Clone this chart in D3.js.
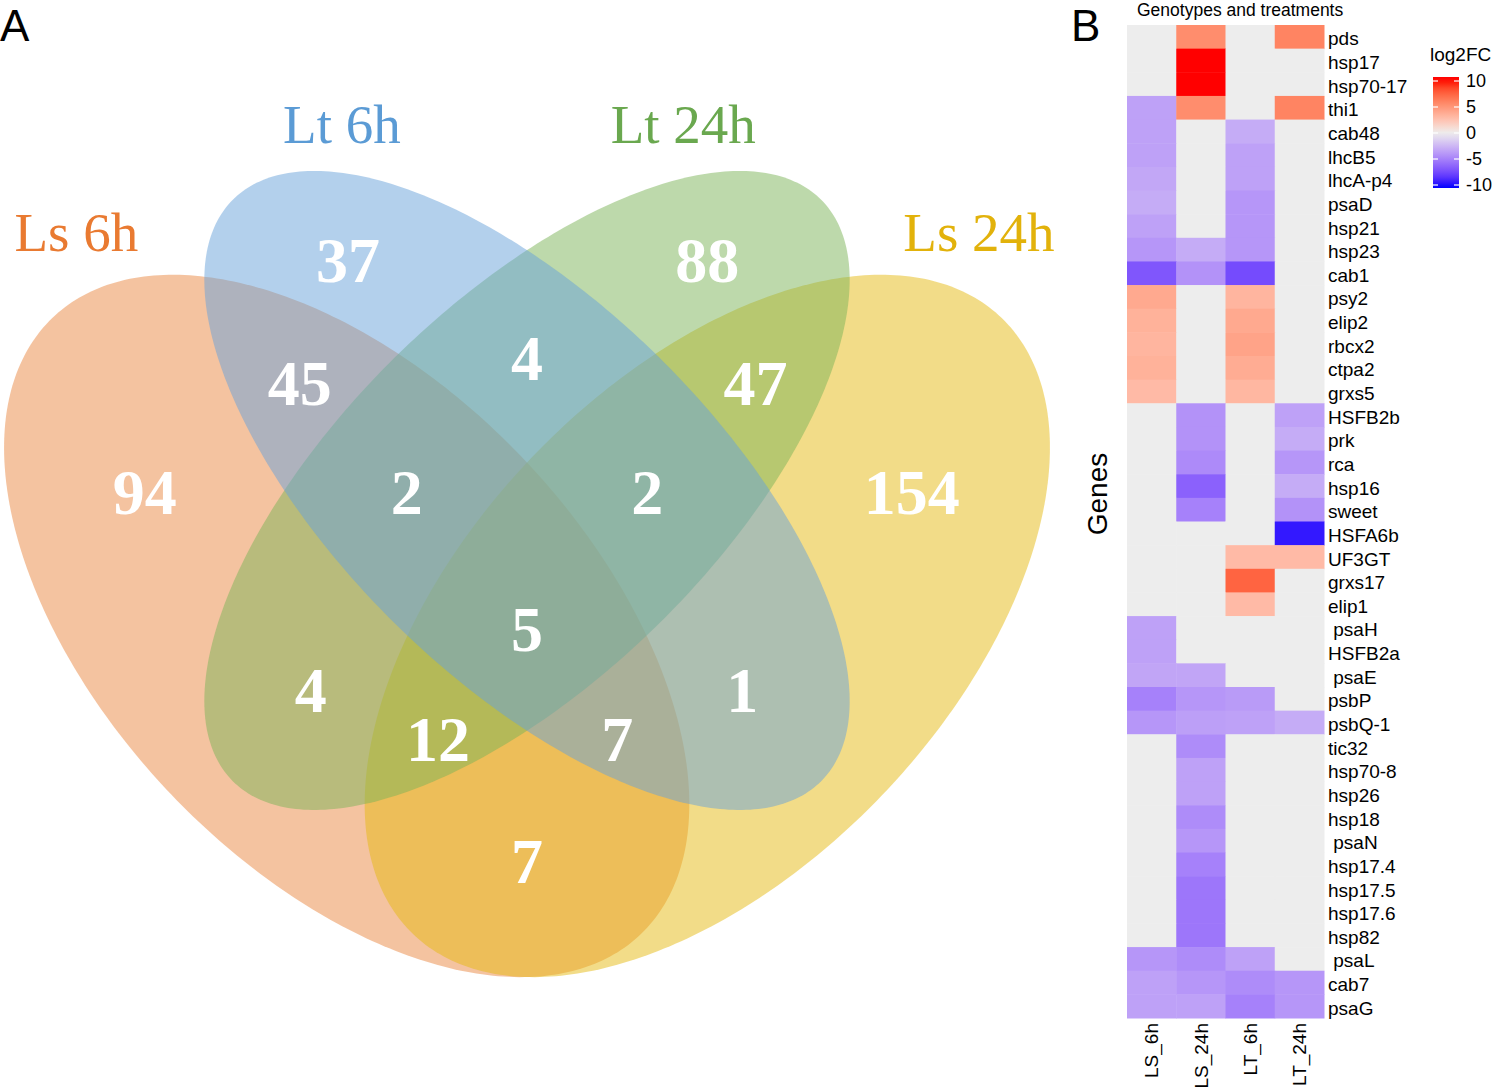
<!DOCTYPE html>
<html>
<head>
<meta charset="utf-8">
<script src="https://cdn.jsdelivr.net/npm/d3@7"></script>
<style>
  html, body { margin: 0; padding: 0; background: #fff; }
  svg { display: block; }
</style>
</head>
<body>
<svg id="chart" width="1495" height="1089"></svg>
<script>
// ---------------- DATA ----------------
// Venn sets
const setNames = ["Ls 6h", "Lt 6h", "Lt 24h", "Ls 24h"];
// Venn region counts
const regionCounts = [94, 37, 88, 154, 45, 4, 47, 2, 2, 5, 4, 1, 12, 7, 7];

// Heatmap
const genes = ["pds","hsp17","hsp70-17","thi1","cab48","lhcB5","lhcA-p4","psaD","hsp21","hsp23","cab1",
  "psy2","elip2","rbcx2","ctpa2","grxs5","HSFB2b","prk","rca","hsp16","sweet","HSFA6b","UF3GT","grxs17",
  "elip1"," psaH","HSFB2a"," psaE","psbP","psbQ-1","tic32","hsp70-8","hsp26","hsp18"," psaN","hsp17.4",
  "hsp17.5","hsp17.6","hsp82"," psaL","cab7","psaG"];
const conditions = ["LS_6h", "LS_24h", "LT_6h", "LT_24h"];
const ls6h  = [null,null,null,-3.5,-3.5,-3.5,-3.2,-3,-3.5,-4,-7,4,3.5,3.3,3.5,3,null,null,null,null,null,null,null,null,null,-3.5,-3.5,-3.3,-5,-4,null,null,null,null,null,null,null,null,null,-4,-3.5,-3.5];
const ls24h = [5.5,10,10,5.5,null,null,null,null,null,-3,-4.2,null,null,null,null,null,-4.2,-4.2,-4.6,-6.5,-5,null,null,null,null,null,null,-3.3,-4,-3.6,-4.5,-3.5,-3.5,-4.5,-4,-5,-5.5,-5.5,-5.5,-4.5,-4,-3.5];
const lt6h  = [null,null,null,null,-3,-3.5,-3.5,-4,-4,-4,-7.5,3.3,4,4.3,3.8,3.2,null,null,null,null,null,null,3,7.5,3,null,null,null,-3.8,-3.5,null,null,null,null,null,null,null,null,null,-3.5,-4.5,-5];
const lt24h = [6,null,null,6,null,null,null,null,null,null,null,null,null,null,null,null,-3.5,-3,-4,-3,-4.2,-9.5,3,null,null,null,null,null,null,-3,null,null,null,null,null,null,null,null,null,null,-4,-4];
const legendTicks = [10, 5, 0, -5, -10];

// ---------------- LAYOUT / STYLE ----------------
const svg = d3.select("#chart");
const serif = "'Liberation Serif', 'Times New Roman', serif";
const sans = "'Liberation Sans', Arial, sans-serif";

// Panel letters
svg.append("text").attr("x", 0).attr("y", 41).attr("font-family", sans).attr("font-size", 44).text("A");
svg.append("text").attr("x", 1071).attr("y", 41).attr("font-family", sans).attr("font-size", 44).text("B");

// ---------- Venn (unit coordinates, y up) ----------
const vx = d3.scaleLinear().domain([0, 1]).range([-74, 1128]);
const vy = d3.scaleLinear().domain([0, 1]).range([1205, -27]);

const ellipses = [
  {cx: 0.35, cy: 0.47, a: 0.35, b: 0.2,   rot: -45,   fill: "#E98741"},
  {cx: 0.65, cy: 0.47, a: 0.35, b: 0.2,   rot: 45,    fill: "#E5B911"},
  {cx: 0.5,  cy: 0.58, a: 0.34, b: 0.154, rot: 43.5,  fill: "#7BB357"},
  {cx: 0.5,  cy: 0.58, a: 0.34, b: 0.154, rot: -43.5, fill: "#67A1D9"}
];
const line = d3.line().x(p => vx(p[0])).y(p => vy(p[1])).curve(d3.curveLinearClosed);
function ellipsePts(e) {
  const th = e.rot * Math.PI / 180, pts = [];
  for (let i = 0; i < 360; i++) {
    const f = i * Math.PI / 180;
    const ux = e.a * Math.cos(f), uy = e.b * Math.sin(f);
    pts.push([e.cx + ux * Math.cos(th) - uy * Math.sin(th), e.cy + ux * Math.sin(th) + uy * Math.cos(th)]);
  }
  return pts;
}
svg.append("g").selectAll("path").data(ellipses).join("path")
  .attr("d", e => line(ellipsePts(e)))
  .attr("fill", e => e.fill).attr("fill-opacity", 0.5).attr("stroke", "none");

// set labels
const setLabelPos = [[0.125, 0.774], [0.346, 0.862], [0.630, 0.862], [0.876, 0.774]];
const setColors = ["#E97A31", "#5B9BD5", "#6AA84F", "#E2B20B"];
svg.append("g").selectAll("text").data(setNames).join("text")
  .attr("x", (d, i) => vx(setLabelPos[i][0])).attr("y", (d, i) => vy(setLabelPos[i][1]))
  .attr("text-anchor", "middle").attr("font-family", serif).attr("font-size", 55)
  .attr("fill", (d, i) => setColors[i]).text(d => d);

// region counts
const regionPos = [[0.182,0.561],[0.351,0.749],[0.650,0.749],[0.820,0.561],[0.311,0.649],[0.500,0.670],
  [0.690,0.649],[0.400,0.561],[0.600,0.561],[0.500,0.450],[0.320,0.400],[0.679,0.400],[0.426,0.360],
  [0.575,0.360],[0.500,0.261]];
svg.append("g").selectAll("text").data(regionCounts).join("text")
  .attr("x", (d, i) => vx(regionPos[i][0])).attr("y", (d, i) => vy(regionPos[i][1]))
  .attr("text-anchor", "middle").attr("font-family", serif).attr("font-weight", "bold")
  .attr("font-size", 64).attr("fill", "#fff").text(d => d);

// ---------- Heatmap ----------
const cols = [ls6h, ls24h, lt6h, lt24h];
const cells = [];
genes.forEach((g, r) => conditions.forEach((c, j) => cells.push({gene: g, cond: c, v: cols[j][r]})));

const hx = d3.scaleBand().domain(conditions).range([1127, 1324]);
const hy = d3.scaleBand().domain(genes).range([25, 1018]);
const color = d3.scaleLinear().domain([-10, 0, 10]).range(["#0000FF", "#EDEDED", "#FF0000"])
  .interpolate(d3.interpolateLab).clamp(true);
const naColor = "#EDEDED";

svg.append("g").selectAll("rect").data(cells).join("rect")
  .attr("x", d => hx(d.cond)).attr("y", d => hy(d.gene))
  .attr("width", hx.bandwidth() + 0.5).attr("height", hy.bandwidth() + 0.5)
  .attr("fill", d => d.v == null ? naColor : color(d.v));

// gene labels (right axis)
const yAxis = svg.append("g").attr("transform", "translate(1324,0)")
  .call(d3.axisRight(hy).tickSize(0).tickPadding(4));
yAxis.select(".domain").remove();
yAxis.selectAll("text").attr("font-family", sans).attr("font-size", 19).attr("fill", "#000")
  .attr("dy", "0.45em").style("white-space", "pre").attr("xml:space", "preserve");

// condition labels (bottom axis, rotated)
const xAxis = svg.append("g").attr("transform", "translate(0,1018)")
  .call(d3.axisBottom(hx).tickSize(0).tickPadding(0));
xAxis.select(".domain").remove();
xAxis.selectAll("text").attr("font-family", sans).attr("font-size", 19).attr("fill", "#000")
  .attr("transform", "rotate(-90)").attr("text-anchor", "end")
  .attr("x", -5).attr("y", 0).attr("dy", "0.35em");

// titles
svg.append("text").attr("x", 1137).attr("y", 16).attr("font-family", sans).attr("font-size", 17.5)
  .text("Genotypes and treatments");
svg.append("text").attr("transform", "translate(1107,494) rotate(-90)").attr("text-anchor", "middle")
  .attr("font-family", sans).attr("font-size", 28).text("Genes");

// legend
svg.append("text").attr("x", 1430).attr("y", 61).attr("font-family", sans).attr("font-size", 19).text("log2FC");
const ly = d3.scaleLinear().domain([-10, 10]).range([185, 81]);
const barTop = 77, barBot = 188, barX = 1433, barW = 26;
const defs = svg.append("defs");
const grad = defs.append("linearGradient").attr("id", "lg").attr("x1", 0).attr("x2", 0).attr("y1", 0).attr("y2", 1);
d3.range(0, 1.0001, 0.05).forEach(t => {
  const v = ly.invert(barTop + t * (barBot - barTop));
  grad.append("stop").attr("offset", t).attr("stop-color", color(v));
});
svg.append("rect").attr("x", barX).attr("y", barTop).attr("width", barW).attr("height", barBot - barTop)
  .attr("fill", "url(#lg)");
const lt = svg.append("g");
legendTicks.forEach(t => {
  lt.append("line").attr("x1", barX).attr("x2", barX + 5).attr("y1", ly(t)).attr("y2", ly(t))
    .attr("stroke", "#fff").attr("stroke-width", 1.2);
  lt.append("line").attr("x1", barX + barW - 5).attr("x2", barX + barW).attr("y1", ly(t)).attr("y2", ly(t))
    .attr("stroke", "#fff").attr("stroke-width", 1.2);
  lt.append("text").attr("x", 1466).attr("y", ly(t)).attr("dy", "0.35em")
    .attr("font-family", sans).attr("font-size", 18).text(t);
});
</script>
</body>
</html>
